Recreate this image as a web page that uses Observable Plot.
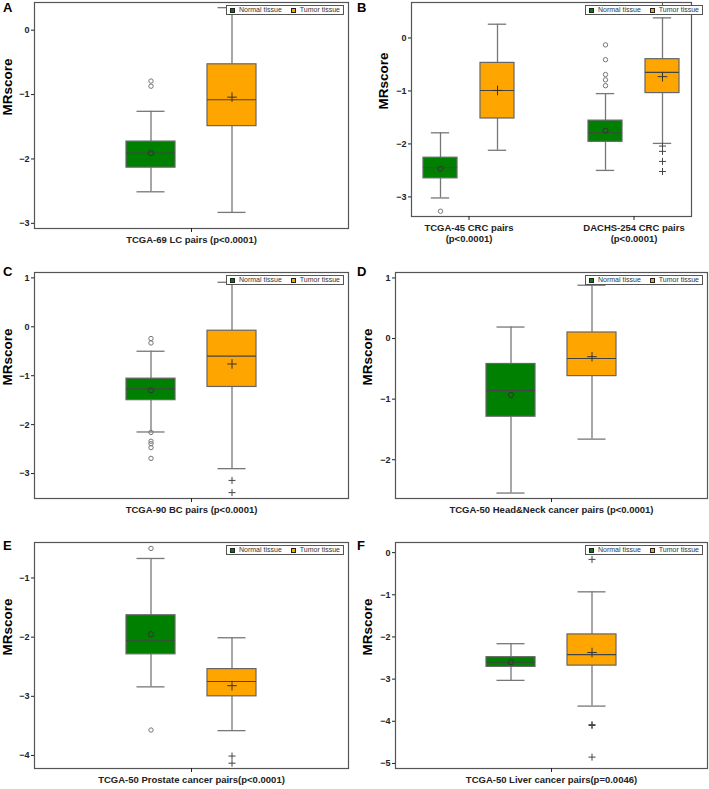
<!DOCTYPE html>
<html><head><meta charset="utf-8">
<script src="https://cdn.jsdelivr.net/npm/d3@7"></script>
<script src="https://cdn.jsdelivr.net/npm/@observablehq/plot@0.6"></script>
<style>
body{margin:0;background:#fff;font-family:"Liberation Sans",Arial,sans-serif;}
#wrap{position:relative;width:709px;height:789px;overflow:hidden;background:#fff;}
.panel{position:absolute;}
.panel svg{display:block;}
.letter{position:absolute;font:bold 13px "Liberation Sans",Arial,sans-serif;line-height:13px;color:#000;}
.legend{position:absolute;display:flex;align-items:center;background:#fff;border:1px solid #555;padding:1px 3px;font:7px "Liberation Sans",Arial,sans-serif;line-height:6px;color:#333;white-space:nowrap;}
.sw{display:inline-block;width:5px;height:5px;box-sizing:border-box;border:1px solid #222;margin-right:4px;}
.legend .item{display:flex;align-items:center;}
.legend .item + .item{margin-left:9px;}
</style></head><body><div id="wrap"></div>
<script>
// ---------- data ----------
const panelIds = ["A", "B", "C", "D", "E", "F"];
const tissues = ["Normal tissue", "Tumor tissue"];
const tissueColors = ["#008000", "#FFA500"];

const groupPanel = ["A", "B", "B", "C", "D", "E", "F"];
const groupNames = [
  "TCGA-69 LC pairs (p<0.0001)",
  "TCGA-45 CRC pairs\n(p<0.0001)",
  "DACHS-254 CRC pairs\n(p<0.0001)",
  "TCGA-90 BC pairs (p<0.0001)",
  "TCGA-50 Head&Neck cancer pairs (p<0.0001)",
  "TCGA-50 Prostate cancer pairs(p<0.0001)",
  "TCGA-50 Liver cancer pairs(p=0.0046)"
];

// one entry per box (group index, tissue index)
const boxGroup  = [0, 0, 1, 1, 2, 2, 3, 3, 4, 4, 5, 5, 6, 6];
const boxTissue = [0, 1, 0, 1, 0, 1, 0, 1, 0, 1, 0, 1, 0, 1];
const whiskerLow  = [-2.51, -2.83, -3.02, -2.12, -2.50, -1.99, -2.15, -2.90, -2.55, -1.66, -2.84, -3.58, -3.03, -3.64];
const quartile1   = [-2.135, -1.49, -2.65, -1.52, -1.96, -1.04, -1.50, -1.23, -1.29, -0.62, -2.29, -3.00, -2.71, -2.68];
const median      = [-1.907, -1.08, -2.45, -0.99, -1.79, -0.65, -1.27, -0.60, -0.86, -0.33, -2.06, -2.75, -2.60, -2.42];
const quartile3   = [-1.73, -0.53, -2.26, -0.47, -1.56, -0.40, -1.06, -0.08, -0.42, 0.10, -1.63, -2.54, -2.48, -1.94];
const whiskerHigh = [-1.26, 0.35, -1.79, 0.26, -1.05, 0.38, -0.50, 0.91, 0.19, 0.88, -0.67, -2.01, -2.16, -0.93];
const meanValue   = [-1.91, -1.04, -2.47, -0.99, -1.75, -0.73, -1.30, -0.76, -0.93, -0.30, -1.95, -2.82, -2.60, -2.37];

// outliers
const outlierGroup  = [0, 0, 1, 2, 2, 2, 2, 2, 2, 2, 2, 2, 2, 3, 3, 3, 3, 3, 3, 3, 3, 3, 5, 5, 5, 5, 6, 6, 6, 6, 6];
const outlierTissue = [0, 0, 0, 0, 0, 0, 0, 0, 1, 1, 1, 1, 1, 0, 0, 0, 0, 0, 0, 0, 1, 1, 0, 0, 1, 1, 1, 1, 1, 1, 1];
const outlierValue  = [-0.79, -0.87, -3.27, -0.13, -0.41, -0.69, -0.79, -0.90, -2.04, -2.14, -2.33, -2.52, 0.59,
                       -0.24, -0.33, -2.16, -2.34, -2.39, -2.47, -2.69, -3.14, -3.39,
                       -0.50, -3.57, -4.01, -4.13, 0.08, -0.16, -4.08, -4.10, -4.85];

// y axes
const panelYDomain = [[-3.08, 0.43], [-3.37, 0.67], [-3.51, 1.11], [-2.64, 1.09], [-4.22, -0.40], [-5.12, 0.24]];
const panelYTicks = [[0, -1, -2, -3], [0, -1, -2, -3], [1, 0, -1, -2, -3], [1, 0, -1, -2], [-1, -2, -3, -4], [0, -1, -2, -3, -4, -5]];
const yLabel = "MRscore";

// ---------- layout (style only) ----------
const single = {fxPi: 0, fxPo: 0, xPi: 0.4, xPo: 1.115, cap: 10.5};
const layout = [
  {left: 0,   top: 0,   width: 354, height: 262, ml: 34, mr: 6, mt: 2,  mb: 34, lab: 27, letterTop: 1, ...single},
  {left: 354, top: 0,   width: 355, height: 262, ml: 41, mr: 2, mt: 2,  mb: 46, lab: 28, letterTop: 1, fxPi: 0.3, fxPo: 0.0907, xPi: 0.403, xPo: 0.193, cap: 7.8},
  {left: 0,   top: 262, width: 354, height: 263, ml: 34, mr: 6, mt: 10, mb: 27, lab: 27, letterTop: 3, ...single},
  {left: 354, top: 262, width: 355, height: 263, ml: 41, mr: 2, mt: 10, mb: 27, lab: 28, letterTop: 3, ...single},
  {left: 0,   top: 525, width: 354, height: 264, ml: 34, mr: 6, mt: 17, mb: 21, lab: 27, letterTop: 14, ...single},
  {left: 354, top: 525, width: 355, height: 264, ml: 41, mr: 2, mt: 17, mb: 21, lab: 28, letterTop: 14, ...single}
];

// ---------- build ----------
const boxes = boxGroup.map((g, i) => ({
  panel: groupPanel[g], group: groupNames[g], tissue: tissues[boxTissue[i]],
  lo: whiskerLow[i], q1: quartile1[i], med: median[i], q3: quartile3[i], hi: whiskerHigh[i], mean: meanValue[i]
}));
const outliers = outlierGroup.map((g, i) => ({
  panel: groupPanel[g], group: groupNames[g], tissue: tissues[outlierTissue[i]], value: outlierValue[i]
}));
const isNormal = d => d.tissue === tissues[0];
const isTumor = d => d.tissue === tissues[1];
const wrap = document.getElementById("wrap");
const fmt = d3.format("d");

panelIds.forEach((p, k) => {
  const L = layout[k];
  const bx = boxes.filter(d => d.panel === p);
  const ol = outliers.filter(d => d.panel === p);
  const groups = groupNames.filter((g, i) => groupPanel[i] === p);

  const chart = Plot.plot({
    width: L.width, height: L.height,
    marginLeft: L.ml, marginRight: L.mr, marginTop: L.mt, marginBottom: L.mb,
    style: {fontFamily: "'Liberation Sans', Arial, sans-serif", background: "transparent", color: "#222"},
    fx: {domain: groups, paddingInner: L.fxPi, paddingOuter: L.fxPo, label: null},
    x: {domain: tissues, paddingInner: L.xPi, paddingOuter: L.xPo, axis: null},
    y: {domain: panelYDomain[k]},
    color: {domain: tissues, range: tissueColors},
    marks: [
      Plot.ruleX(bx, {fx: "group", x: "tissue", y1: "q3", y2: "hi", stroke: "#777", strokeWidth: 1.3}),
      Plot.ruleX(bx, {fx: "group", x: "tissue", y1: "lo", y2: "q1", stroke: "#777", strokeWidth: 1.3}),
      Plot.tickY(bx, {fx: "group", x: "tissue", y: "hi", stroke: "#777", strokeWidth: 1.3, insetLeft: L.cap, insetRight: L.cap}),
      Plot.tickY(bx, {fx: "group", x: "tissue", y: "lo", stroke: "#777", strokeWidth: 1.3, insetLeft: L.cap, insetRight: L.cap}),
      Plot.barY(bx, {fx: "group", x: "tissue", y1: "q1", y2: "q3", fill: "tissue", stroke: "#666", strokeWidth: 1.2}),
      Plot.tickY(bx, {fx: "group", x: "tissue", y: "med", stroke: "#444", strokeWidth: 1.1}),
      Plot.dot(bx.filter(isNormal), {fx: "group", x: "tissue", y: "mean", r: 2.6, stroke: "#333", strokeWidth: 1, fill: "none"}),
      Plot.dot(bx.filter(isTumor), {fx: "group", x: "tissue", y: "mean", symbol: "plus", r: 3.2, stroke: "#333", strokeWidth: 1}),
      Plot.dot(ol.filter(isNormal), {fx: "group", x: "tissue", y: "value", r: 2.2, stroke: "#777", strokeWidth: 1, fill: "none"}),
      Plot.dot(ol.filter(isTumor), {fx: "group", x: "tissue", y: "value", symbol: "plus", r: 2.4, stroke: "#444", strokeWidth: 1}),
      Plot.frame({stroke: "#555", strokeWidth: 1.2, facet: "super"}),
      Plot.axisY({ticks: panelYTicks[k], tickFormat: fmt, tickSize: 3, tickPadding: 2, fontSize: 9, fontWeight: "bold", label: null}),
      Plot.text([yLabel], {text: d => d, frameAnchor: "left", rotate: -90, dx: -L.lab, fontSize: 13.5, fontWeight: "bold", fill: "#000", facet: "super"}),
      Plot.axisFx({anchor: "bottom", tickSize: 4, tickPadding: 3, fontSize: 9.5, fontWeight: "bold", label: null, lineHeight: 1.15})
    ]
  });

  const div = document.createElement("div");
  div.className = "panel";
  div.style.left = L.left + "px";
  div.style.top = L.top + "px";
  div.style.width = L.width + "px";
  div.style.height = L.height + "px";
  div.appendChild(chart);

  const legend = document.createElement("div");
  legend.className = "legend";
  legend.style.right = (L.mr + 4) + "px";
  legend.style.top = (L.mt + 3) + "px";
  tissues.forEach((t, i) => {
    const item = document.createElement("span");
    item.className = "item";
    const sw = document.createElement("span");
    sw.className = "sw";
    sw.style.background = tissueColors[i];
    item.appendChild(sw);
    item.appendChild(document.createTextNode(t));
    legend.appendChild(item);
  });
  div.appendChild(legend);

  const letter = document.createElement("div");
  letter.className = "letter";
  letter.textContent = p;
  letter.style.left = "3px";
  letter.style.top = L.letterTop + "px";
  div.appendChild(letter);

  wrap.appendChild(div);
});
</script>
</body></html>
